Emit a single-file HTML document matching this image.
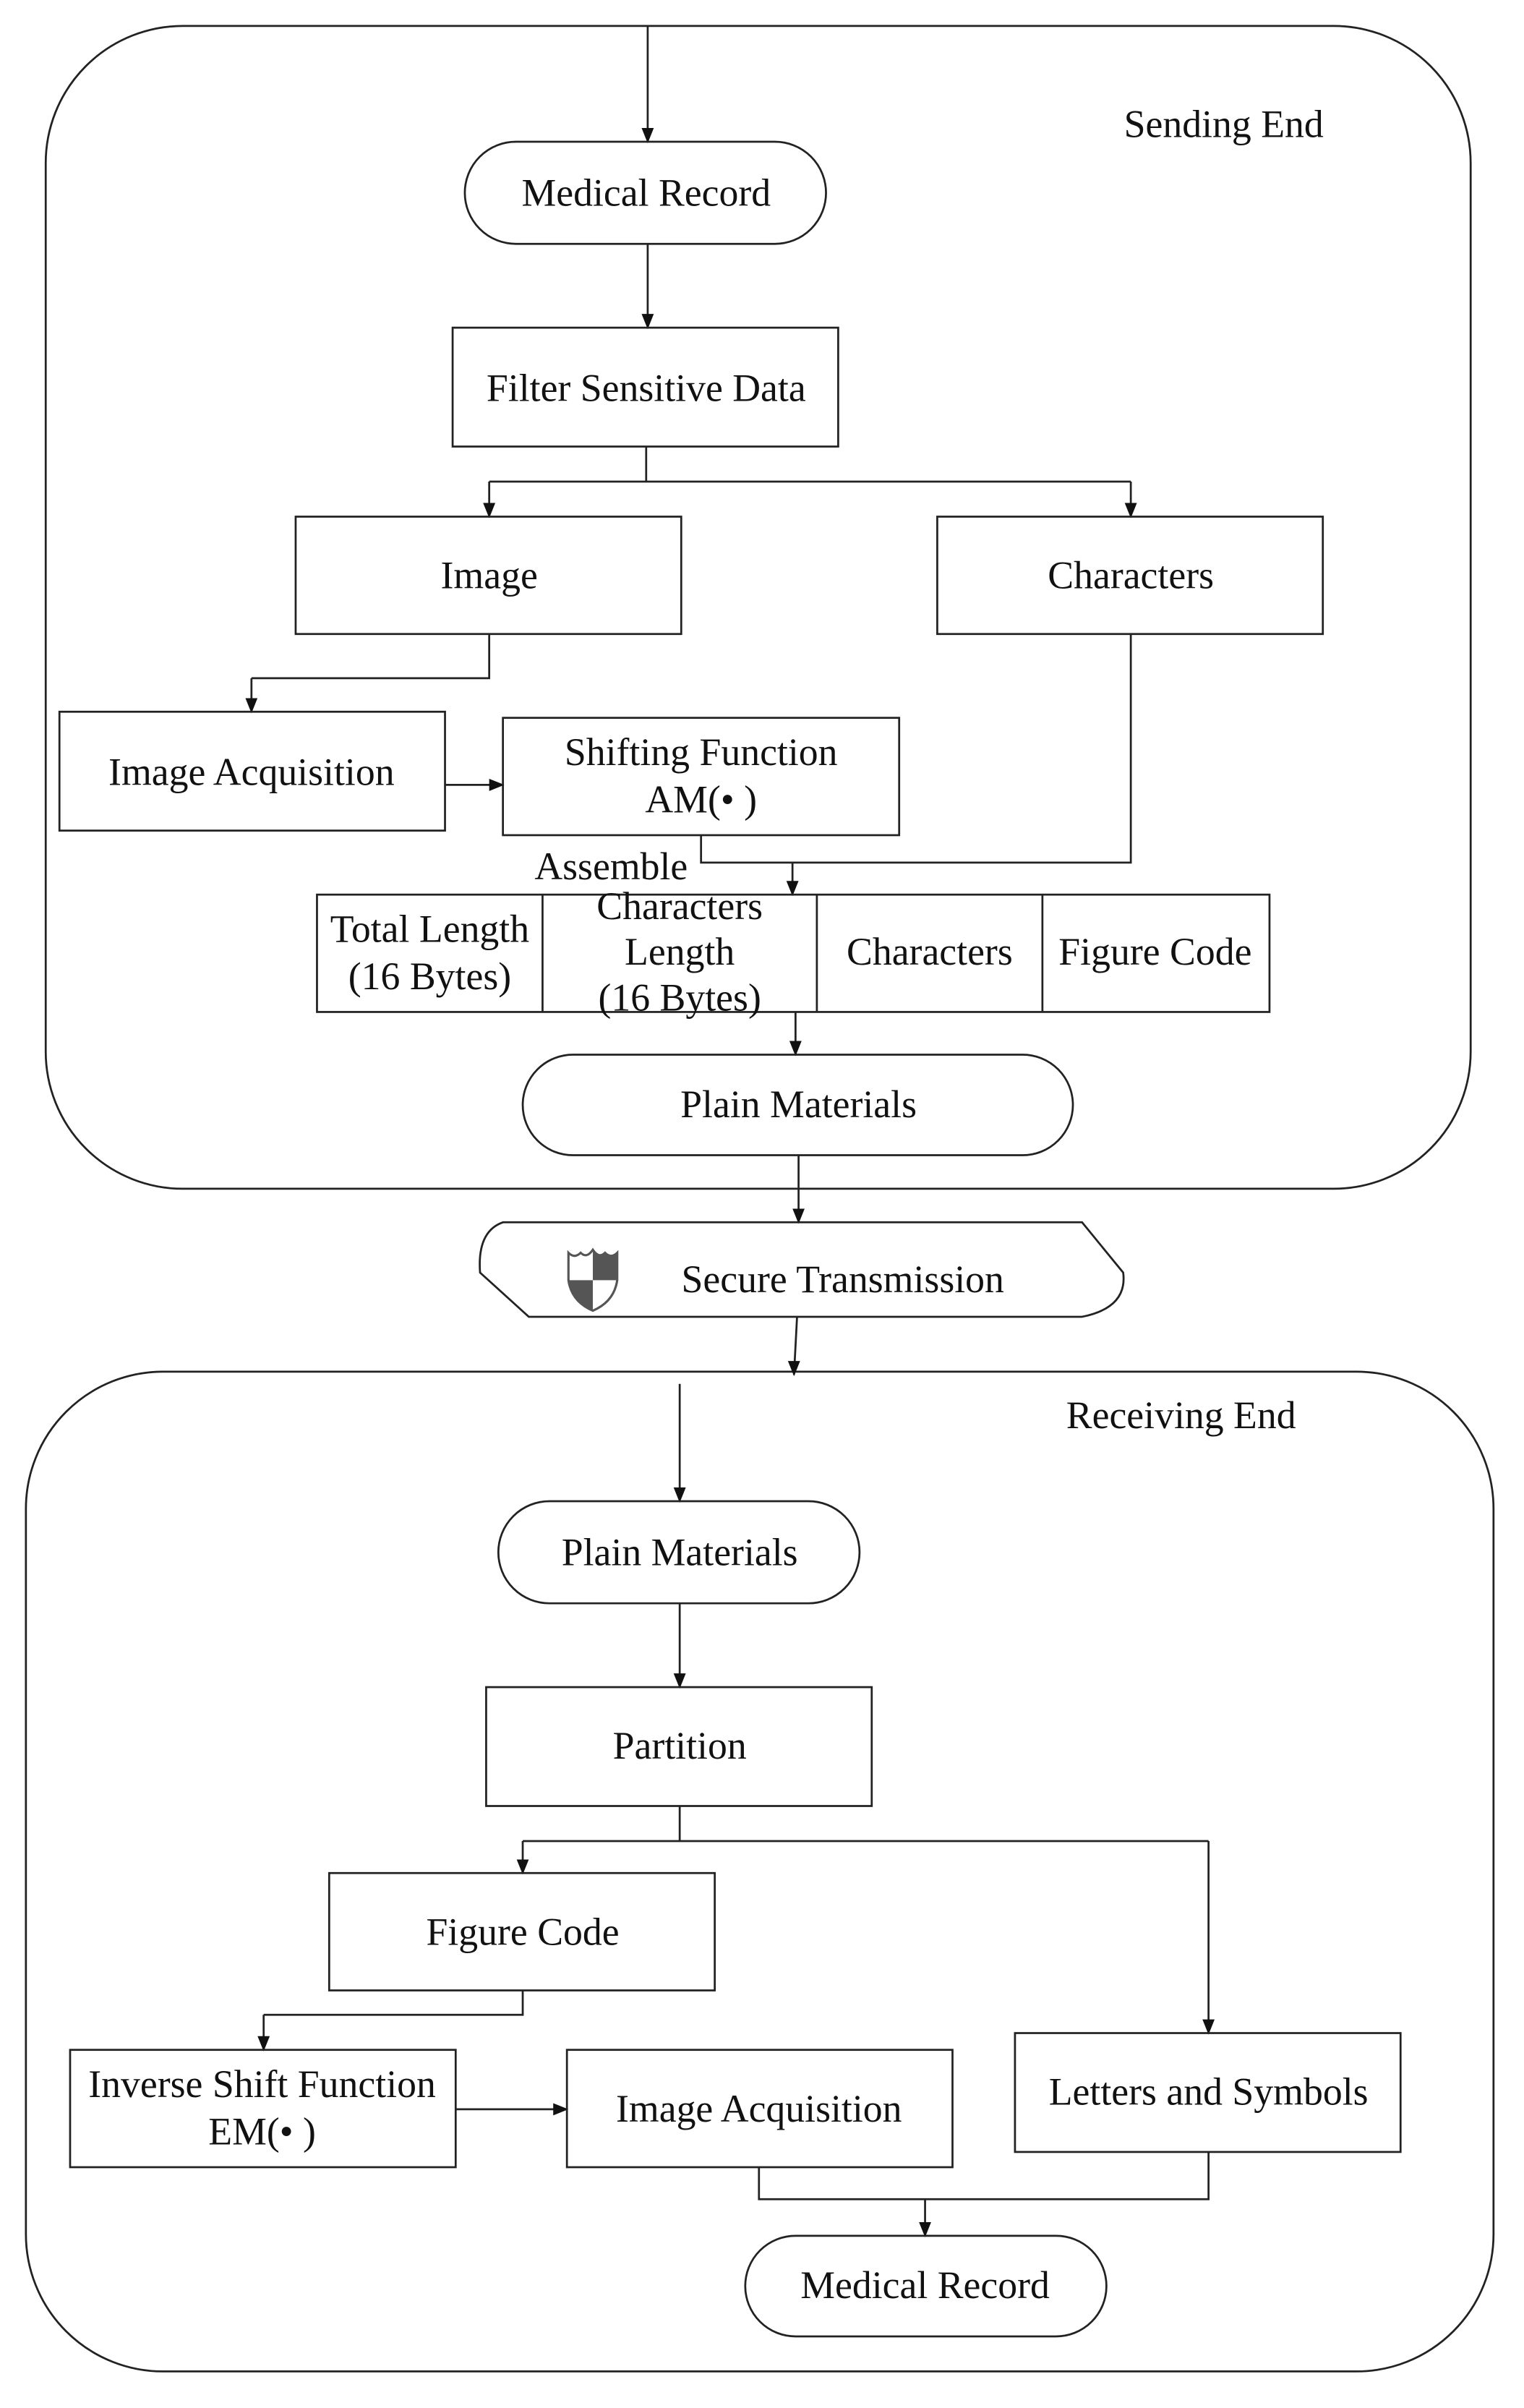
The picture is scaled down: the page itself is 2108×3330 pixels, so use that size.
<!DOCTYPE html>
<html><head><meta charset="utf-8"><style>
html,body{margin:0;padding:0;background:#fff;}
svg{display:block;}
text{font-family:"Liberation Serif",serif;font-size:25.5px;fill:#111;text-anchor:middle;}
</style></head><body>
<svg width="2108" height="3330" viewBox="0 0 1000 1580" preserveAspectRatio="none" xmlns="http://www.w3.org/2000/svg">
<defs>
<marker id="ar" markerWidth="10" markerHeight="10" refX="9" refY="5" orient="0" markerUnits="userSpaceOnUse" viewBox="0 0 10 10"><path d="M0,1 L10,5 L0,9 Z" fill="#111"/></marker>
<marker id="ad" markerWidth="10" markerHeight="10" refX="5" refY="9" orient="0" markerUnits="userSpaceOnUse" viewBox="0 0 10 10"><path d="M1,0 L9,0 L5,10 Z" fill="#111"/></marker></defs>
<g fill="none" stroke="#222" stroke-width="1.3">
<rect x="30" y="17" width="935" height="763" rx="90"/>
<rect x="17" y="900" width="963" height="656" rx="90"/>
<line x1="425" y1="17" x2="425" y2="93" marker-end="url(#ad)"/>
<rect x="305" y="93" width="237" height="67" rx="33.5"/>
<line x1="425" y1="160" x2="425" y2="215" marker-end="url(#ad)"/>
<rect x="297" y="215" width="253" height="78"/>
<polyline points="424,293 424,316"/>
<line x1="321" y1="316" x2="742" y2="316"/>
<line x1="321" y1="316" x2="321" y2="339" marker-end="url(#ad)"/>
<line x1="742" y1="316" x2="742" y2="339" marker-end="url(#ad)"/>
<rect x="194" y="339" width="253" height="77"/>
<rect x="615" y="339" width="253" height="77"/>
<polyline points="321,416 321,445 165,445"/>
<line x1="165" y1="445" x2="165" y2="467" marker-end="url(#ad)"/>
<rect x="39" y="467" width="253" height="78"/>
<line x1="292" y1="515" x2="330" y2="515" marker-end="url(#ar)"/>
<rect x="330" y="471" width="260" height="77"/>
<polyline points="460,548 460,566 742,566 742,416"/>
<line x1="520" y1="566" x2="520" y2="587" marker-end="url(#ad)"/>
<rect x="208" y="587" width="625" height="77"/>
<line x1="356" y1="587" x2="356" y2="664"/>
<line x1="536" y1="587" x2="536" y2="664"/>
<line x1="684" y1="587" x2="684" y2="664"/>
<line x1="522" y1="664" x2="522" y2="692" marker-end="url(#ad)"/>
<rect x="343" y="692" width="361" height="66" rx="33"/>
<line x1="524" y1="758" x2="524" y2="802" marker-end="url(#ad)"/>
<path d="M330,802 L710,802 L737,835 Q740,858 710,864 L347,864 L315,835 Q313,808 330,802 Z"/>
<line x1="523" y1="864" x2="521" y2="902" marker-end="url(#ad)"/>
<line x1="446" y1="908" x2="446" y2="985" marker-end="url(#ad)"/>
<rect x="327" y="985" width="237" height="67" rx="33.5"/>
<line x1="446" y1="1052" x2="446" y2="1107" marker-end="url(#ad)"/>
<rect x="319" y="1107" width="253" height="78"/>
<polyline points="446,1185 446,1208"/>
<line x1="343" y1="1208" x2="793" y2="1208"/>
<line x1="343" y1="1208" x2="343" y2="1229" marker-end="url(#ad)"/>
<line x1="793" y1="1208" x2="793" y2="1334" marker-end="url(#ad)"/>
<rect x="216" y="1229" width="253" height="77"/>
<polyline points="343,1306 343,1322 173,1322"/>
<line x1="173" y1="1322" x2="173" y2="1345" marker-end="url(#ad)"/>
<rect x="46" y="1345" width="253" height="77"/>
<line x1="299" y1="1384" x2="372" y2="1384" marker-end="url(#ar)"/>
<rect x="372" y="1345" width="253" height="77"/>
<rect x="666" y="1334" width="253" height="78"/>
<polyline points="498,1422 498,1443 793,1443 793,1412"/>
<line x1="607" y1="1443" x2="607" y2="1467" marker-end="url(#ad)"/>
<rect x="489" y="1467" width="237" height="66" rx="33"/>
</g>
<g transform="translate(373,820)">
<path d="M0,2 Q4,6 8,2 Q12,6 16,0 Q20,6 24,2 Q28,6 32,2 L32,20 Q30,34 16,40 Q2,34 0,20 Z" fill="#fff" stroke="#555" stroke-width="1.5"/>
<path d="M16,0 Q20,6 24,2 Q28,6 32,2 L32,20 L16,20 Z" fill="#555"/>
<path d="M0,20 L16,20 L16,40 Q2,34 0,20 Z" fill="#555"/>
</g>
<text x="803" y="90">Sending End</text>
<text x="424" y="135">Medical Record</text>
<text x="424" y="263">Filter Sensitive Data</text>
<text x="321" y="386">Image</text>
<text x="742" y="386">Characters</text>
<text x="165" y="515">Image Acquisition</text>
<text x="460" y="502">Shifting Function</text>
<text x="460" y="533">AM(• )</text>
<text x="401" y="577">Assemble</text>
<text x="282" y="618">Total Length</text>
<text x="282" y="649">(16 Bytes)</text>
<text x="446" y="603">Characters</text>
<text x="446" y="633">Length</text>
<text x="446" y="663">(16 Bytes)</text>
<text x="610" y="633">Characters</text>
<text x="758" y="633">Figure Code</text>
<text x="524" y="733">Plain Materials</text>
<text x="553" y="848">Secure Transmission</text>
<text x="775" y="937">Receiving End</text>
<text x="446" y="1027">Plain Materials</text>
<text x="446" y="1154">Partition</text>
<text x="343" y="1276">Figure Code</text>
<text x="172" y="1376">Inverse Shift Function</text>
<text x="172" y="1407">EM(• )</text>
<text x="498" y="1392">Image Acquisition</text>
<text x="793" y="1381">Letters and Symbols</text>
<text x="607" y="1508">Medical Record</text>
</svg>
</body></html>
